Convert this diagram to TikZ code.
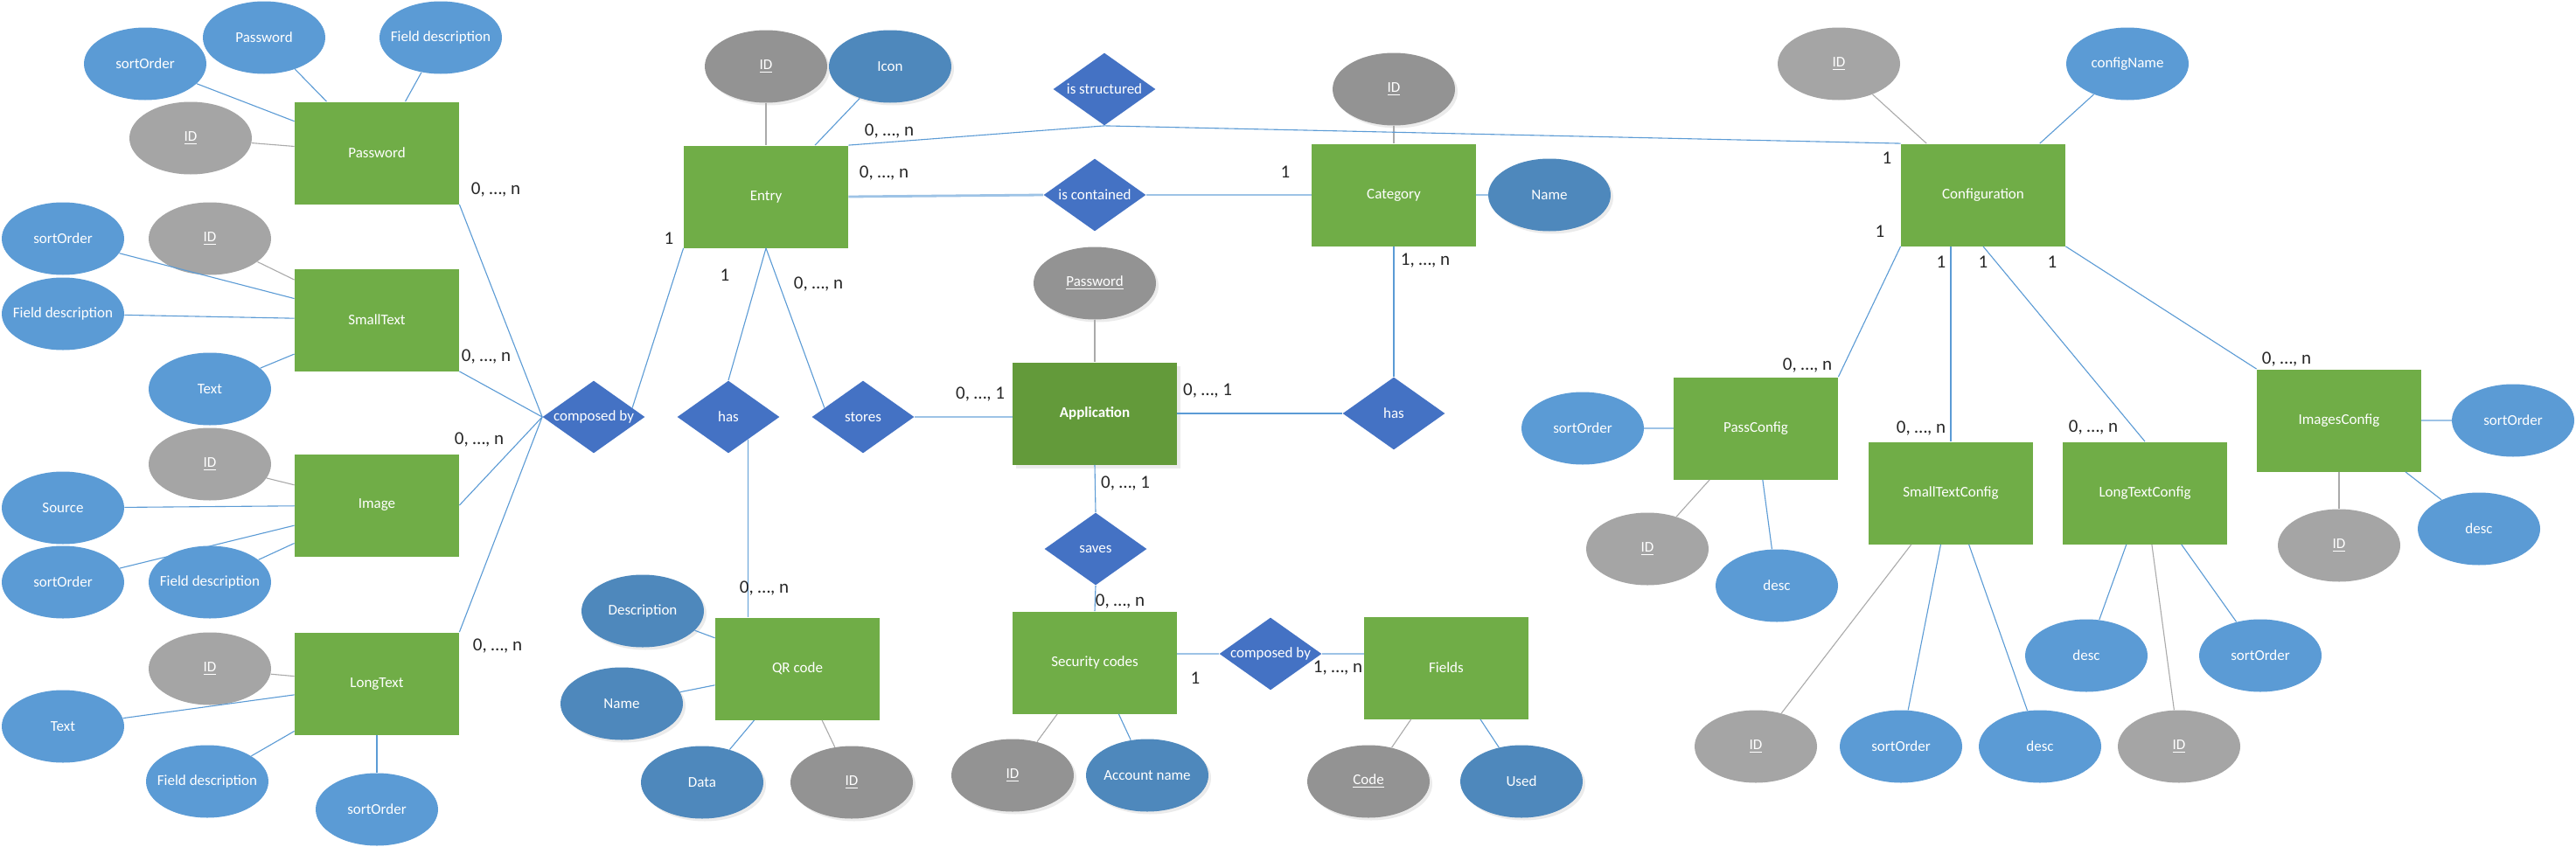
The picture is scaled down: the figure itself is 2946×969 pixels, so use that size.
\documentclass[tikz,border=0pt]{standalone}
\usepackage{fontspec}
\setmainfont{Carlito}
\usetikzlibrary{shapes.geometric,calc,shadows}
\definecolor{entgreen}{RGB}{112,173,71}
\definecolor{appgreen}{RGB}{99,154,58}
\definecolor{relblue}{RGB}{68,114,196}
\definecolor{lblue}{RGB}{91,155,213}
\definecolor{dblue}{RGB}{78,136,188}
\definecolor{lgray}{RGB}{165,165,165}
\definecolor{dgray}{RGB}{147,147,147}
\definecolor{lnblue}{RGB}{91,155,213}
\definecolor{lnlight}{RGB}{157,195,230}
\definecolor{lngray}{RGB}{170,170,170}
\definecolor{labcol}{RGB}{38,38,38}
\newcommand\zw[1]{\makebox[0pt]{#1}}
\begin{document}
\begin{tikzpicture}[x=0.5pt,y=-0.5pt,
  txt/.style={text=white,font=\fontsize{8.5}{10}\selectfont},
  ent/.style={rectangle,fill=entgreen,minimum width=94pt,minimum height=58.5pt,inner sep=0pt,txt},
  appent/.style={ent,fill=appgreen,font=\fontsize{8.5}{10}\selectfont\bfseries,drop shadow={shadow xshift=2pt,shadow yshift=-2pt,opacity=0.08,fill=black}},
  attr/.style={ellipse,fill=lblue,minimum width=70pt,minimum height=41.5pt,inner sep=0pt,txt},
  dattr/.style={attr,fill=dblue,drop shadow={shadow xshift=1.5pt,shadow yshift=-1.5pt,opacity=0.08,fill=black}},
  kattr/.style={attr,fill=lgray},
  dkattr/.style={attr,fill=dgray,drop shadow={shadow xshift=1.5pt,shadow yshift=-1.5pt,opacity=0.08,fill=black}},
  rel/.style={diamond,fill=relblue,minimum width=58.5pt,minimum height=41.5pt,inner sep=0pt,txt},
  lab/.style={text=labcol,font=\fontsize{10.5}{12}\selectfont,inner sep=0pt},
  ln/.style={draw=lnblue,line width=0.55pt},
  lnl/.style={draw=lnlight,line width=1.4pt},
  lng/.style={draw=lngray,line width=0.55pt}
]
\fill[white] (0,0) rectangle (2946,969);
\useasboundingbox (0,0) rectangle (2946,969);

% ---------- left column ----------
\node[ent] (PW) at (431,175) {\zw{Password}};
\node[attr] (pwPass) at (302,43) {\zw{Password}};
\node[attr] (pwDesc) at (504,43) {\zw{Field description}};
\node[attr] (pwSort) at (166,73) {\zw{sortOrder}};
\node[kattr] (pwID) at (218,158) {\zw{\underline{ID}}};

\node[ent] (ST) at (431,366) {\zw{SmallText}};
\node[attr] (stSort) at (72,273) {\zw{sortOrder}};
\node[kattr] (stID) at (240,273) {\zw{\underline{ID}}};
\node[attr] (stDesc) at (72,359) {\zw{Field description}};
\node[attr] (stText) at (240,445) {\zw{Text}};

\node[ent] (IM) at (431,578) {\zw{Image}};
\node[kattr] (imID) at (240,531) {\zw{\underline{ID}}};
\node[attr] (imSrc) at (72,581) {\zw{Source}};
\node[attr] (imSort) at (72,666) {\zw{sortOrder}};
\node[attr] (imDesc) at (240,666) {\zw{Field description}};

\node[ent] (LT) at (431,782) {\zw{LongText}};
\node[kattr] (ltID) at (240,765) {\zw{\underline{ID}}};
\node[attr] (ltText) at (72,831) {\zw{Text}};
\node[attr] (ltDesc) at (237,894) {\zw{Field description}};
\node[attr] (ltSort) at (431,926) {\zw{sortOrder}};

% ---------- middle ----------
\node[rel] (cb1) at (679,477) {\zw{composed by}};
\node[rel] (has1) at (833,477) {\zw{has}};
\node[rel] (stores) at (987,477) {\zw{stores}};

\node[ent] (EN) at (876,225) {\zw{Entry}};
\node[dkattr] (enID) at (876,76) {\zw{\underline{ID}}};
\node[dattr] (enIcon) at (1018,76) {\zw{Icon}};

\node[rel] (isstruct) at (1263,102) {\zw{is structured}};
\node[rel] (iscont) at (1252,223) {\zw{is contained}};

\node[ent] (CA) at (1594,223) {\zw{Category}};
\node[dkattr] (caID) at (1594,102) {\zw{\underline{ID}}};
\node[dattr] (caName) at (1772,223) {\zw{Name}};

\node[dkattr] (appPw) at (1252,324) {\zw{\underline{Password}}};
\node[appent] (App) at (1252,473) {\zw{Application}};
\node[rel] (has2) at (1594,473) {\zw{has}};
\node[rel] (saves) at (1253,628) {\zw{saves}};

\node[ent] (SC) at (1252,758) {\zw{Security codes}};
\node[dkattr] (scID) at (1158,887) {\zw{\underline{ID}}};
\node[dattr] (scAcc) at (1312,887) {\zw{Account name}};

\node[rel] (cb2) at (1453,748) {\zw{composed by}};

\node[ent] (FI) at (1654,764) {\zw{Fields}};
\node[dkattr] (fiCode) at (1565,894) {\zw{\underline{Code}}};
\node[dattr] (fiUsed) at (1740,894) {\zw{Used}};

\node[ent] (QR) at (912,765) {\zw{QR code}};
\node[dattr] (qrDesc) at (735,699) {\zw{Description}};
\node[dattr] (qrName) at (711,805) {\zw{Name}};
\node[dattr] (qrData) at (803,895) {\zw{Data}};
\node[dkattr] (qrID) at (974,895) {\zw{\underline{ID}}};

% ---------- right ----------
\node[ent] (CF) at (2268,223) {\zw{Configuration}};
\node[kattr] (cfID) at (2103,73) {\zw{\underline{ID}}};
\node[attr] (cfName) at (2433,73) {\zw{configName}};

\node[ent] (PC) at (2008,490) {\zw{PassConfig}};
\node[attr] (pcSort) at (1810,490) {\zw{sortOrder}};
\node[kattr] (pcID) at (1884,628) {\zw{\underline{ID}}};
\node[attr] (pcDesc) at (2032,670) {\zw{desc}};

\node[ent] (STC) at (2231,564) {\zw{SmallTextConfig}};
\node[kattr] (stcID) at (2008,854) {\zw{\underline{ID}}};
\node[attr] (stcSort) at (2174,854) {\zw{sortOrder}};
\node[attr] (stcDesc) at (2333,854) {\zw{desc}};

\node[ent] (LTC) at (2453,564) {\zw{LongTextConfig}};
\node[attr] (ltcDesc) at (2386,750) {\zw{desc}};
\node[kattr] (ltcID) at (2492,854) {\zw{\underline{ID}}};
\node[attr] (ltcSort) at (2585,750) {\zw{sortOrder}};

\node[ent] (IC) at (2675,481) {\zw{ImagesConfig}};
\node[attr] (icSort) at (2874,481) {\zw{sortOrder}};
\node[kattr] (icID) at (2675,624) {\zw{\underline{ID}}};
\node[attr] (icDesc) at (2835,605) {\zw{desc}};

% ---------- attribute lines ----------
\begin{scope}[on background layer/.style={}]
\draw[ln] (pwPass) -- (PW);
\draw[ln] (pwDesc) -- (PW);
\draw[ln] (pwSort) -- (PW);
\draw[lng] (pwID) -- (PW);
\draw[lng] (stID) -- (ST);
\draw[ln] (stSort) -- (ST);
\draw[ln] (stDesc) -- (ST);
\draw[ln] (stText) -- (ST);
\draw[lng] (imID) -- (IM);
\draw[ln] (imSrc) -- (IM);
\draw[ln] (imSort) -- (IM);
\draw[ln] (imDesc) -- (IM);
\draw[lng] (ltID) -- (LT);
\draw[ln] (ltText) -- (LT);
\draw[ln] (ltDesc) -- (LT);
\draw[ln] (ltSort) -- (LT);
\draw[lng] (enID) -- (EN);
\draw[ln] (enIcon) -- (EN);
\draw[lng] (caID) -- (CA);
\draw[lnl] (CA) -- (caName);
\draw[lng] (appPw) -- (App);
\draw[lng] (scID) -- (SC);
\draw[ln] (scAcc) -- (SC);
\draw[lng] (fiCode) -- (FI);
\draw[ln] (fiUsed) -- (FI);
\draw[ln] (qrDesc) -- (QR);
\draw[ln] (qrName) -- (QR);
\draw[ln] (qrData) -- (QR);
\draw[lng] (qrID) -- (QR);
\draw[lng] (cfID) -- (CF);
\draw[ln] (cfName) -- (CF);
\draw[lnl] (pcSort) -- (PC);
\draw[lng] (pcID) -- (PC);
\draw[ln] (pcDesc) -- (PC);
\draw[lng] (stcID) -- (STC);
\draw[ln] (stcSort) -- (STC);
\draw[ln] (stcDesc) -- (STC);
\draw[ln] (ltcDesc) -- (LTC);
\draw[lng] (ltcID) -- (LTC);
\draw[ln] (ltcSort) -- (LTC);
\draw[lnl] (icSort) -- (IC);
\draw[lng] (icID) -- (IC);
\draw[ln] (icDesc) -- (IC);
\end{scope}

% ---------- relationship lines ----------
\draw[ln] (PW.south east) -- (cb1.west);
\draw[ln] (ST.south east) -- (cb1.west);
\draw[ln] (IM.east) -- (cb1.west);
\draw[ln] (LT.north east) -- (cb1.west);
\draw[ln] (EN.south west) -- ($(cb1.east)!0.25!(cb1.north)$);
\draw[ln] (EN.south) -- (has1.north);
\draw[ln] (EN.south) -- ($(stores.west)!0.25!(stores.north)$);
\coordinate (h1) at ($(has1.south)!0.38!(has1.east)$);
\draw[ln] (h1) -- (h1 |- QR.north);
\draw[lnl] (stores.east) -- (stores.east -| App.west);
\draw[ln] (App.east) -- (has2.west);
\draw[ln] (has2.north) -- (CA.south);
\draw[ln] (App.south) -- (saves.north);
\draw[ln] (saves.south) -- (SC.north);
\draw[lnl] (cb2.west -| SC.east) -- (cb2.west);
\draw[lnl] (cb2.east) -- (cb2.east -| FI.west);
\draw[lnl] (EN.east) -- (iscont.west);
\draw[lnl] (iscont.east) -- (CA.west);
\draw[ln] (EN.north east) -- (isstruct.south) -- (CF.north west);
\draw[ln] (CF.south west) -- (PC.north east);
\draw[ln] (STC.north |- CF.south) -- (STC.north);
\draw[ln] (CF.south) -- (LTC.north);
\draw[ln] (CF.south east) -- (IC.north west);

% ---------- cardinality labels ----------
\node[lab] (c1) at (567,217) {0, …, n};
\node[lab] (c2) at (556,408) {0, …, n};
\node[lab] (c3) at (548,503) {0, …, n};
\node[lab] (c4) at (569,739) {0, …, n};
\node[lab] (c5) at (765,273) {1};
\node[lab] (c6) at (829,315) {1};
\node[lab] (c7) at (936,325) {0, …, n};
\node[lab] (c8) at (1017,150) {0, …, n};
\node[lab] (c9) at (1011,198) {0, …, n};
\node[lab] (c10) at (1470,197) {1};
\node[lab] (c11) at (1630,298) {1, …, n};
\node[lab] (c12) at (2158,181) {1};
\node[lab] (c13) at (2150,265) {1};
\node[lab] (c14) at (2220,300) {1};
\node[lab] (c15) at (2268,300) {1};
\node[lab] (c16) at (2347,300) {1};
\node[lab] (c17) at (2067,418) {0, …, n};
\node[lab] (c18) at (2197,490) {0, …, n};
\node[lab] (c19) at (2394,489) {0, …, n};
\node[lab] (c20) at (2615,411) {0, …, n};
\node[lab] (c21) at (1121,451) {0, …, 1};
\node[lab] (c22) at (1381,447) {0, …, 1};
\node[lab] (c23) at (1287,553) {0, …, 1};
\node[lab] (c24) at (874,673) {0, …, n};
\node[lab] (c25) at (1281,688) {0, …, n};
\node[lab] (c26) at (1367,776) {1};
\node[lab] (c27) at (1530,764) {1, …, n};
\end{tikzpicture}
\end{document}
